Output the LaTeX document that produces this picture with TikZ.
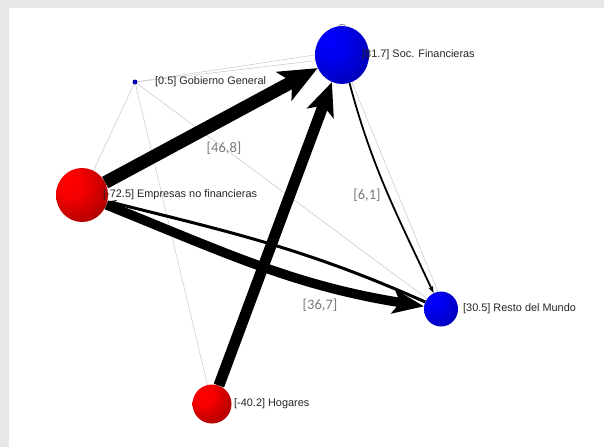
\documentclass[tikz,border=0pt]{standalone}
\usepackage{fontspec}
\setmainfont{Liberation Sans}
\newfontfamily\edgefont{Carlito}
\usetikzlibrary{arrows.meta}
\usetikzlibrary{shapes.geometric}

\definecolor{framegray}{HTML}{E6E7E9}
\definecolor{gridgray}{HTML}{C8C8C8}
\definecolor{edgelabel}{HTML}{7A7A7A}

\pgfdeclareradialshading{redsphere}{\pgfpoint{-14bp}{14bp}}{color(0bp)=(red); color(14bp)=(red!96!black); color(40bp)=(red!62!black); color(70bp)=(red!42!black)}
\pgfdeclareradialshading{bluesphere}{\pgfpoint{-14bp}{14bp}}{color(0bp)=(blue); color(14bp)=(blue!94!black); color(40bp)=(blue!68!black); color(70bp)=(blue!45!black)}

\tikzset{
  sphere/.style={ellipse,inner sep=0pt,draw=none},
  redball/.style={sphere,shading=redsphere},
  blueball/.style={sphere,shading=bluesphere},
  sectorlbl/.style={anchor=west,inner sep=0pt,text=black!85,font=\fontsize{10.9}{12}\selectfont},
  flowlbl/.style={inner sep=0pt,text=edgelabel,font=\edgefont\fontsize{14.5}{16}\selectfont},
  gridline/.style={draw=gridgray,line width=0.5pt},
}

\begin{document}
\begin{tikzpicture}[x=1pt,y=1pt]

\useasboundingbox (0,-447) rectangle (604,0);
\fill[framegray] (0,-447) rectangle (604,0);
\fill[white] (9,-447) rectangle (604,-8);

% sectores
\node[blueball,minimum width=54pt,minimum height=58pt] (soc) at (342,-55) {};
\node[circle,inner sep=0pt,minimum size=5pt,fill=blue!70!black] (gob) at (135,-82) {};
\node[redball,minimum width=52pt,minimum height=54pt] (emp) at (82,-195) {};
\node[blueball,minimum width=34pt,minimum height=35pt] (resto) at (441,-309) {};
\node[redball,minimum width=39pt,minimum height=39pt] (hog) at (212,-404) {};

% flujos menores
\draw[gridline] (gob) -- (soc.180);
\draw[gridline] (gob) -- (soc.192);
\draw[gridline] (gob) -- (emp);
\draw[gridline] (gob) -- (hog);
\draw[gridline] (gob) -- (resto);
\draw[gridline] (soc.-70) -- (resto.100);
\draw[draw=gray,line width=0.8pt] (soc.96) .. controls +(0,2) and +(0,2) .. (soc.84);

% flujos principales
\draw[line width=1.8pt,-{Stealth[length=7pt,width=5pt]}] (soc) to[out=-75,in=115] (resto);
\draw[line width=3pt,-{Stealth[length=9pt,width=7pt]}] (resto) to[out=156,in=-14] (emp);
\draw[line width=9.5pt,-{Stealth[length=31pt,width=24pt,inset=7pt]}] (emp) to[out=-22,in=171] (resto);
\draw[line width=11pt,-{Stealth[length=33pt,width=28pt,inset=8pt]}] (hog) -- (soc);
\draw[line width=13pt,-{Stealth[length=38pt,width=32pt,inset=9pt]}] (emp) -- (soc);

% etiquetas
\node[sectorlbl] (soclbl) at (362,-55) {[81.7] Soc. Financieras};
\node[sectorlbl] (goblbl) at (155,-82) {[0.5] Gobierno General};
\node[sectorlbl] (emplbl) at (103,-195) {[-72.5] Empresas no financieras};
\node[sectorlbl] (restolbl) at (463,-309) {[30.5] Resto del Mundo};
\node[sectorlbl] (hoglbl) at (234,-404) {[-40.2] Hogares};

\node[flowlbl] (lbla) at (224,-148) {[46,8]};
\node[flowlbl] (lblb) at (367,-195) {[6,1]};
\node[flowlbl] (lblc) at (320,-305) {[36,7]};

\end{tikzpicture}
\end{document}
